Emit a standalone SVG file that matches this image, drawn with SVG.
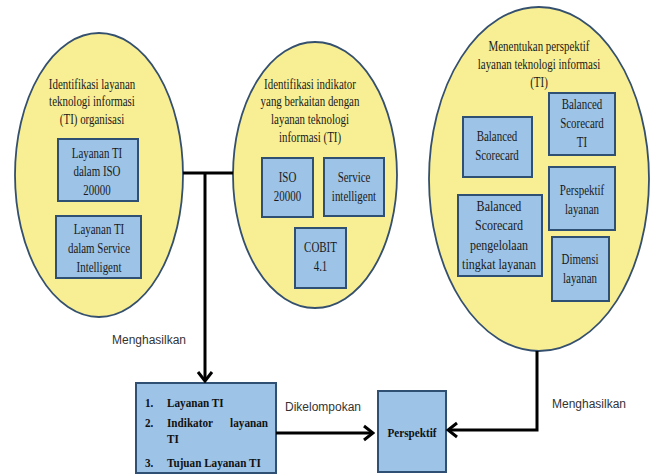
<svg xmlns="http://www.w3.org/2000/svg" width="652" height="475" viewBox="0 0 652 475">
<defs>
<style>
.ell{fill:#F8EE93;stroke:#34506E;stroke-width:1.8}
.box{fill:#9DC3E6;stroke:#2F5072;stroke-width:2}
.st{font-family:"Liberation Serif","Times New Roman",serif;font-size:14px;fill:#1a1a1a;text-anchor:middle}
.bt{font-family:"Liberation Serif","Times New Roman",serif;font-size:13px;font-weight:bold;fill:#111}
.lbl{font-family:"Liberation Sans",Arial,sans-serif;font-size:12px;fill:#333}
.ln{fill:none;stroke:#000;stroke-width:3}
</style>
<marker id="arr" viewBox="-12 -9 14 18" refX="0" refY="0" markerWidth="14" markerHeight="18" markerUnits="userSpaceOnUse" orient="auto">
<path d="M-9,-7 L0,0 L-9,7" fill="none" stroke="#000" stroke-width="3"/>
</marker>
</defs>
<rect width="652" height="475" fill="#fff"/>

<g id="n1">
<ellipse class="ell" cx="99" cy="175" rx="84" ry="142"/>
<g class="st" transform="translate(92,0) scale(0.78,1)">
<text x="0" y="89">Identifikasi layanan</text>
<text x="0" y="106">teknologi informasi</text>
<text x="0" y="124">(TI)  organisasi</text>
</g>
</g>
<g id="n1a">
<rect class="box" x="58" y="139" width="80" height="62"/>
<g class="st" transform="translate(97,0) scale(0.78,1)">
<text x="0" y="158">Layanan  TI</text>
<text x="0" y="176">dalam ISO</text>
<text x="0" y="195">20000</text>
</g>
</g>
<g id="n1b">
<rect class="box" x="56" y="216" width="85" height="62"/>
<g class="st" transform="translate(99,0) scale(0.78,1)">
<text x="0" y="234">Layanan  TI</text>
<text x="0" y="253">dalam  Service</text>
<text x="0" y="272">Intelligent</text>
</g>
</g>

<g id="n2">
<ellipse class="ell" cx="315" cy="175" rx="82" ry="133"/>
<g class="st" transform="translate(310,0) scale(0.78,1)">
<text x="0" y="89">Identifikasi  indikator</text>
<text x="0" y="106">yang berkaitan  dengan</text>
<text x="0" y="124">layanan teknologi</text>
<text x="0" y="142">informasi  (TI)</text>
</g>
</g>
<g id="n2a">
<rect class="box" x="262" y="158" width="51" height="59"/>
<g class="st" transform="translate(287.5,0) scale(0.78,1)">
<text x="0" y="182">ISO</text>
<text x="0" y="201">20000</text>
</g>
</g>
<g id="n2b">
<rect class="box" x="324" y="158" width="60" height="58"/>
<g class="st" transform="translate(354,0) scale(0.78,1)">
<text x="0" y="182">Service</text>
<text x="0" y="201">intelligent</text>
</g>
</g>
<g id="n2c">
<rect class="box" x="295" y="228" width="51" height="60"/>
<g class="st" transform="translate(320.5,0) scale(0.78,1)">
<text x="0" y="252">COBIT</text>
<text x="0" y="271">4.1</text>
</g>
</g>

<g id="n3">
<ellipse class="ell" cx="539" cy="179" rx="110" ry="172"/>
<g class="st" transform="translate(539,0) scale(0.78,1)">
<text x="0" y="51">Menentukan perspektif</text>
<text x="0" y="69">layanan teknologi informasi</text>
<text x="0" y="87">(TI)</text>
</g>
</g>
<g id="n3a">
<rect class="box" x="463" y="117" width="69" height="60"/>
<g class="st" transform="translate(497,0) scale(0.78,1)">
<text x="0" y="141">Balanced</text>
<text x="0" y="160">Scorecard</text>
</g>
</g>
<g id="n3b">
<rect class="box" x="549" y="93" width="66" height="62"/>
<g class="st" transform="translate(582,0) scale(0.78,1)">
<text x="0" y="109">Balanced</text>
<text x="0" y="128">Scorecard</text>
<text x="0" y="147">TI</text>
</g>
</g>
<g id="n3c">
<rect class="box" x="549" y="167" width="66" height="63"/>
<g class="st" transform="translate(582,0) scale(0.78,1)">
<text x="0" y="195">Perspektif</text>
<text x="0" y="214">layanan</text>
</g>
</g>
<g id="n3d">
<rect class="box" x="458" y="195" width="84" height="81"/>
<g class="st" transform="translate(499,0) scale(0.86,1)">
<text x="0" y="211">Balanced</text>
<text x="0" y="230">Scorecard</text>
<text x="0" y="250">pengelolaan</text>
<text x="0" y="269">tingkat layanan</text>
</g>
</g>
<g id="n3e">
<rect class="box" x="552" y="237" width="57" height="64"/>
<g class="st" transform="translate(580,0) scale(0.78,1)">
<text x="0" y="264">Dimensi</text>
<text x="0" y="283">layanan</text>
</g>
</g>

<g id="n4">
<rect class="box" x="136" y="383" width="140" height="90"/>
<g class="bt" transform="translate(145,0) scale(0.86,1)">
<text x="0" y="407">1.</text>
<text x="25.6" y="407">Layanan TI</text>
<text x="0" y="427">2.</text>
<text x="25.6" y="427">Indikator</text>
<text x="143" y="427" text-anchor="end">layanan</text>
<text x="25.6" y="443">TI</text>
<text x="0" y="467">3.</text>
<text x="25.6" y="467">Tujuan Layanan TI</text>
</g>
</g>

<g id="n5">
<rect class="box" x="378" y="391" width="68" height="81"/>
<g class="bt" transform="translate(412,0) scale(0.86,1)">
<text x="0" y="437" text-anchor="middle">Perspektif</text>
</g>
</g>

<g id="connectors">
<line class="ln" x1="183" y1="173" x2="233" y2="173"/>
<line class="ln" x1="205" y1="173" x2="205" y2="381" marker-end="url(#arr)"/>
<line class="ln" x1="276" y1="433" x2="373" y2="433" marker-end="url(#arr)"/>
<polyline class="ln" points="537,351 537,430 448,430" marker-end="url(#arr)"/>
<text class="lbl" x="112" y="344">Menghasilkan</text>
<text class="lbl" x="285" y="411">Dikelompokan</text>
<text class="lbl" x="552" y="408">Menghasilkan</text>
</g>
</svg>
